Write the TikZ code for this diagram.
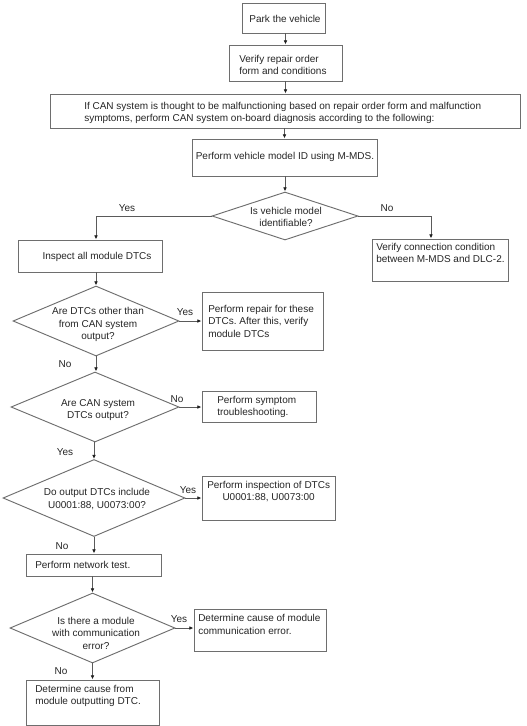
\documentclass[tikz,border=0pt]{standalone}
\usepackage{fontspec}
\setmainfont{Liberation Sans}
\usetikzlibrary{shapes.geometric,arrows.meta,calc}
\frenchspacing
\newdimen\pxu \pxu=0.75pt
\definecolor{boxgray}{HTML}{6E6E6E}
\definecolor{arrgray}{HTML}{5A5A5A}
\definecolor{tipgray}{HTML}{202020}
\tikzset{
  box/.style={draw=boxgray, line width=0.7pt, inner sep=0pt, rectangle},
  dia/.style={draw=boxgray, line width=0.7pt, inner sep=0pt, diamond},
  txt/.style={font=\fontsize{7.5pt}{9.4pt}\selectfont, inner sep=0pt, text=black!85},
  ltxt/.style={txt, align=left, anchor=west},
  ctxt/.style={txt, align=center},
  lbl/.style={txt},
  arr/.style={draw=arrgray, line width=0.65pt, -{Latex[length=3.2pt,width=2.8pt,color=tipgray]}},
}
\begin{document}
\begin{tikzpicture}[x=0.75pt,y=-0.75pt]
\useasboundingbox[fill=white] (0,0) rectangle (526,726);

% boxes
\node[box, minimum width=83\pxu,  minimum height=30\pxu] (b1)  at (283.5,18) {};
\node[box, minimum width=113\pxu, minimum height=36\pxu] (b2)  at (285.5,63) {};
\node[box, minimum width=470\pxu, minimum height=34\pxu] (b3)  at (285,111) {};
\node[box, minimum width=185\pxu, minimum height=37\pxu] (b4)  at (284.5,157.5) {};
\node[box, minimum width=144\pxu, minimum height=32\pxu] (b5)  at (90,256) {};
\node[box, minimum width=136\pxu, minimum height=42\pxu] (b6)  at (440,260) {};
\node[box, minimum width=121\pxu, minimum height=58\pxu] (b7)  at (262.5,321) {};
\node[box, minimum width=114\pxu, minimum height=31\pxu] (b8)  at (259,406.5) {};
\node[box, minimum width=133\pxu, minimum height=44\pxu] (b9)  at (268.5,498) {};
\node[box, minimum width=135\pxu, minimum height=22\pxu] (b10) at (93.5,565) {};
\node[box, minimum width=132\pxu, minimum height=42\pxu] (b11) at (260,630) {};
\node[box, minimum width=133\pxu, minimum height=45\pxu] (b12) at (92.5,702.5) {};

% diamonds
\node[dia, minimum width=146\pxu, minimum height=48\pxu] (d1) at (285,216) {};
\node[dia, minimum width=166\pxu, minimum height=70\pxu] (d2) at (96,321) {};
\node[dia, minimum width=168\pxu, minimum height=70\pxu] (d3) at (95,407) {};
\node[dia, minimum width=182\pxu, minimum height=77\pxu] (d4) at (94,498) {};
\node[dia, minimum width=165\pxu, minimum height=70\pxu] (d5) at (92.5,628) {};

% texts
\node[ctxt] (t1) at (285,19) {Park the vehicle};
\node[ltxt] (t2) at (239,65) {Verify repair order\\ form and conditions};
\node[ltxt] (t3) at (84,113) {If CAN system is thought to be malfunctioning based on repair order form and malfunction\\symptoms, perform CAN system on-board diagnosis according to the following:};
\node[ctxt] (t4) at (285,157) {Perform vehicle model ID using M-MDS.};
\node[ctxt] (td1) at (286,217) {Is vehicle model\\identifiable?};
\node[ctxt] (t5) at (97,257) {Inspect all module DTCs};
\node[ltxt] (t6) at (376,253) {Verify connection condition\\between M-MDS and DLC-2.};
\node[ctxt] (td2) at (98,324.5) {Are DTCs other than\\from CAN system\\output?};
\node[ltxt] (t7) at (208,321) {Perform repair for these\\DTCs. After this, verify\\module DTCs};
\node[ctxt] (td3) at (98,410) {Are CAN system\\DTCs output?};
\node[ltxt] (t8) at (217,407) {Perform symptom\\troubleshooting.};
\node[ctxt] (td4) at (97,499) {Do output DTCs include\\U0001:88, U0073:00?};
\node[txt, align=center, anchor=west] (t9) at (207,491.5) {Perform inspection of DTCs\\U0001:88, U0073:00};
\node[ltxt] (t10) at (35,565) {Perform network test.};
\node[ctxt] (td5) at (96,633) {Is there a module\\with communication\\error?};
\node[ltxt] (t11) at (198,624.5) {Determine cause of module\\communication error.};
\node[ltxt] (t12) at (35,696) {Determine cause from\\module outputting DTC.};

% labels
\node[lbl] (l1) at (127,208) {Yes};
\node[lbl] (l2) at (387,208) {No};
\node[lbl] (l3) at (185,312) {Yes};
\node[lbl] (l4) at (65,364) {No};
\node[lbl] (l5) at (177,399) {No};
\node[lbl] (l6) at (65,452) {Yes};
\node[lbl] (l7) at (188,490) {Yes};
\node[lbl] (l8) at (62,546) {No};
\node[lbl] (l9) at (179,619) {Yes};
\node[lbl] (l10) at (61,671) {No};

% connectors
\draw[arr] (b1.south -| b2.north) -- (b2.north);
\draw[arr] (b2.south) -- (b2.south |- b3.north);
\draw[arr] (b4.north |- b3.south) -- (b4.north);
\draw[arr] (d1.north |- b4.south) -- (d1.north);
\draw[arr] (d1.west) -| (d2.north |- b5.north);
\draw[arr] (d1.east) -| ($(b6.north)+(-9,0)$);
\draw[arr] (d2.north |- b5.south) -- (d2.north);
\draw[arr] (d2.east) -- (d2.east -| b7.west);
\draw[arr] (d2.south) -- (d2.south |- d3.north);
\draw[arr] (d3.east) -- (d3.east -| b8.west);
\draw[arr] (d4.north |- d3.south) -- (d4.north);
\draw[arr] (d4.east) -- (d4.east -| b9.west);
\draw[arr] (d4.south) -- (d4.south |- b10.north);
\draw[arr] (d5.north |- b10.south) -- (d5.north);
\draw[arr] (d5.east) -- (d5.east -| b11.west);
\draw[arr] (d5.south) -- (d5.south |- b12.north);
\end{tikzpicture}
\end{document}
